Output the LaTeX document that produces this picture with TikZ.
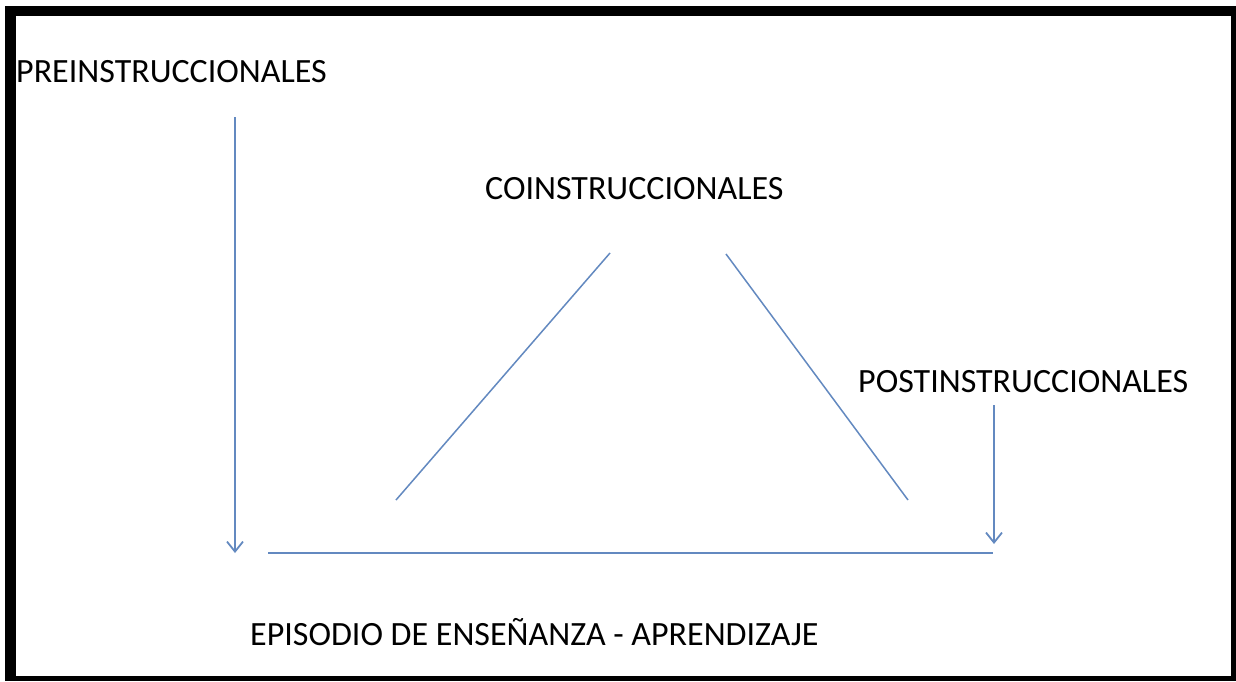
\documentclass[tikz,border=0pt]{standalone}
\usepackage{fontspec}
\setmainfont{Carlito}
\usetikzlibrary{arrows.meta}
\definecolor{lineblue}{HTML}{6389C0}
\tikzset{
  lbl/.style={anchor=base west, inner sep=0pt, font=\fontsize{34}{40}\selectfont, text=black},
  conn/.style={draw=lineblue, line width=1.5pt},
  arr/.style={conn, -{Straight Barb[length=10pt, width=16pt, line width=1.8pt]}}
}
\begin{document}
\begin{tikzpicture}[x=1pt, y=-1pt]
\useasboundingbox (0,0) rectangle (1236,681);
\fill[white] (0,0) rectangle (1236,681);
% frame
\fill[black] (5,6) rectangle (1236,681);
\fill[white] (16,16) rectangle (1231,676);
% labels
\node[lbl] (pre) at (16,82) {PREINSTRUCCIONALES};
\node[lbl] (co) at (485,199) {COINSTRUCCIONALES};
\node[lbl] (post) at (858,392) {POSTINSTRUCCIONALES};
\node[lbl] (epi) at (250,645) {EPISODIO DE ENSEÑANZA - APRENDIZAJE};
% coordinates
\coordinate (preS) at (235,117);
\coordinate (preE) at (235,553);
\coordinate (postS) at (994,405);
\coordinate (postE) at (994,544);
\coordinate (hL) at (268,553);
\coordinate (hR) at (993,553);
\coordinate (dlB) at (396,500);
\coordinate (dlT) at (610,253);
\coordinate (drT) at (726,254);
\coordinate (drB) at (908,500);
% connectors
\draw[arr] (preS) -- (preE);
\draw[arr] (postS) -- (postE);
\draw[conn] (hL) -- (hR);
\draw[conn] (dlB) -- (dlT);
\draw[conn] (drT) -- (drB);
\end{tikzpicture}
\end{document}
